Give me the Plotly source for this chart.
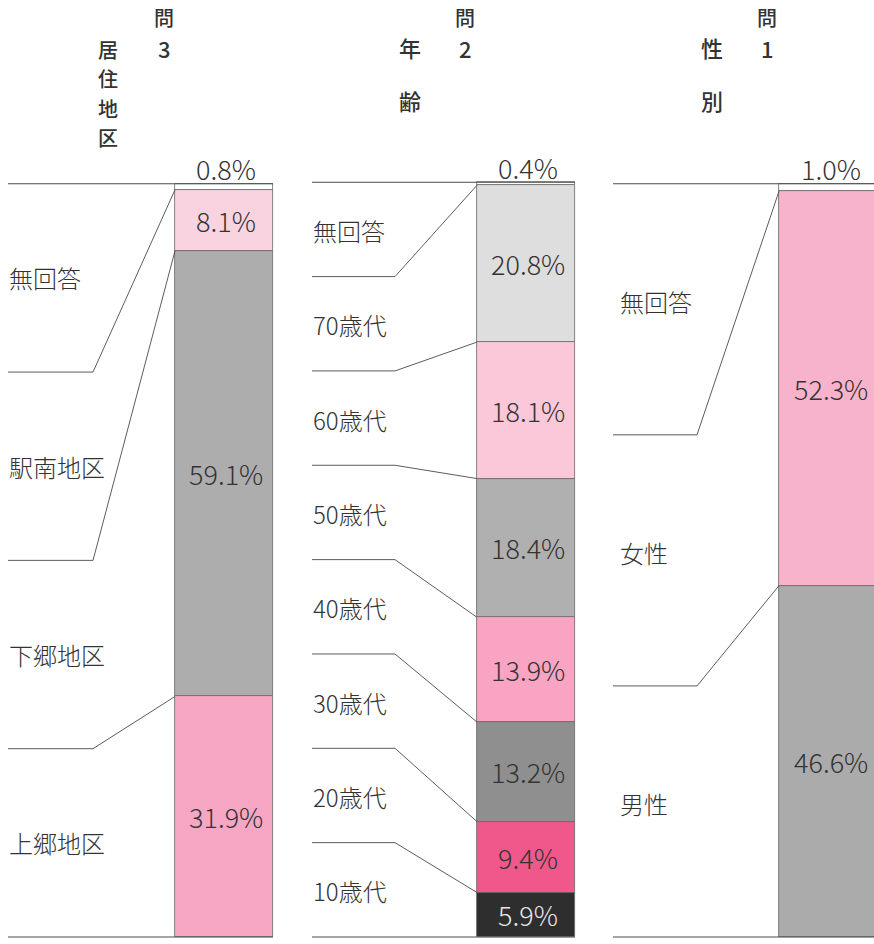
import plotly.graph_objects as go

# ---------------- data (listed top -> bottom, as in the chart) ----------------
q3_title = "居住地区"
q3_categories = ["無回答", "駅南地区", "下郷地区", "上郷地区"]
q3_values = [0.8, 8.1, 59.1, 31.9]

q2_title = "年齢"
q2_categories = ["無回答", "70歳代", "60歳代", "50歳代", "40歳代", "30歳代", "20歳代", "10歳代"]
q2_values = [0.4, 20.8, 18.1, 18.4, 13.9, 13.2, 9.4, 5.9]

q1_title = "性別"
q1_categories = ["無回答", "女性", "男性"]
q1_values = [1.0, 52.3, 46.6]

q_numbers = ["3", "2", "1"]

# ---------------- styles ----------------
q3_colors = ["#ffffff", "#f9d4e0", "#adadad", "#f7a6c3"]
q2_colors = ["#ffffff", "#dedede", "#fbc8da", "#b0b0b0", "#f8a4c2", "#8f8f8f", "#f0588c", "#2e2e2e"]
q1_colors = ["#ffffff", "#f8b3cc", "#ababab"]

W, H = 874, 944
TOP_PX, BOT_PX = 183, 937
SCALE = 100.0 / (BOT_PX - TOP_PX)
Y_RANGE = [-(H - BOT_PX) * SCALE, 100 + TOP_PX * SCALE]

FONT = "Noto Sans CJK JP, Noto Sans, sans-serif"
TXT = "#333333"
LINE = "#4a4a4a"

panels = [
    dict(title=q3_title, cats=q3_categories, vals=q3_values, cols=q3_colors, num=q_numbers[0],
         line_left=8, elbow=93, bar_left=175, bar_w=98, label_x=7, label_dy=0,
         q_x=164, title_x=108, title_vertical=True),
    dict(title=q2_title, cats=q2_categories, vals=q2_values, cols=q2_colors, num=q_numbers[1],
         line_left=312, elbow=395, bar_left=477, bar_w=98, label_x=311, label_dy=1,
         q_x=465, title_x=410, title_vertical=False),
    dict(title=q1_title, cats=q1_categories, vals=q1_values, cols=q1_colors, num=q_numbers[2],
         line_left=613, elbow=697, bar_left=779, bar_w=100, label_x=618, label_dy=-8,
         q_x=767, title_x=712, title_vertical=False),
]


def px_to_paper(py):
    return 1 - py / H


fig = go.Figure()
annotations = []

for p in panels:
    vals = p["vals"]
    n = len(vals)
    total = sum(vals)
    bases = [sum(vals[i + 1:]) for i in range(n)]
    cx = p["bar_left"] + p["bar_w"] / 2
    right = p["bar_left"] + p["bar_w"]

    # stacked segments
    fig.add_trace(go.Bar(
        x=[cx] * n, y=vals, base=bases, width=p["bar_w"],
        marker=dict(color=p["cols"], line=dict(color="#666666", width=0.8)),
        hoverinfo="skip", showlegend=False,
    ))

    # top & bottom baselines
    for yy in (total, 0):
        fig.add_trace(go.Scatter(
            x=[p["line_left"], right], y=[yy, yy], mode="lines",
            line=dict(color=LINE, width=1), hoverinfo="skip", showlegend=False))

    # leader lines from label slots to segment boundaries
    slot = total / n
    for k in range(1, n):
        slot_y = total - k * slot
        seg_y = bases[k - 1]
        fig.add_trace(go.Scatter(
            x=[p["line_left"], p["elbow"], p["bar_left"]], y=[slot_y, slot_y, seg_y],
            mode="lines", line=dict(color=LINE, width=0.9),
            hoverinfo="skip", showlegend=False))

    # category labels
    for k, c in enumerate(p["cats"]):
        annotations.append(dict(
            x=p["label_x"], y=total - (k + 0.5) * slot - p["label_dy"] * SCALE,
            xref="x", yref="y",
            text=c, showarrow=False, xanchor="left", yanchor="middle",
            font=dict(family=FONT, size=24, color=TXT, weight=300)))

    # value labels
    for k, v in enumerate(vals):
        if v < 3:
            annotations.append(dict(
                x=cx + 2, y=total + 15 * SCALE, xref="x", yref="y", text=f"{v:.1f}%",
                showarrow=False, xanchor="center", yanchor="middle",
                font=dict(family=FONT, size=27, color=TXT, weight=300)))
        else:
            col = "#e6e6e6" if p["cols"][k] == "#2e2e2e" else TXT
            annotations.append(dict(
                x=cx + 2, y=bases[k] + v / 2, xref="x", yref="y", text=f"{v:.1f}%",
                showarrow=False, xanchor="center", yanchor="middle",
                font=dict(family=FONT, size=27, color=col, weight=300)))

    # titles: 問 over the question number, and the question name
    for txt, py, sz in (("問", 17, 20), (p["num"], 48, 22)):
        annotations.append(dict(x=p["q_x"], y=px_to_paper(py), xref="x", yref="paper",
                                text=txt, showarrow=False, yanchor="middle",
                                font=dict(family=FONT, size=sz, color=TXT, weight=500)))
    if p["title_vertical"]:
        for i, ch in enumerate(p["title"]):
            annotations.append(dict(x=p["title_x"], y=px_to_paper(50 + i * 29), xref="x",
                                    yref="paper", text=ch, showarrow=False,
                                    yanchor="middle",
                                    font=dict(family=FONT, size=20, color=TXT, weight=500)))
    else:
        for i, ch in enumerate(p["title"]):
            annotations.append(dict(x=p["title_x"], y=px_to_paper(47 + i * 53), xref="x",
                                    yref="paper", text=ch, showarrow=False,
                                    yanchor="middle",
                                    font=dict(family=FONT, size=22, color=TXT, weight=500)))

fig.update_layout(
    width=W, height=H,
    margin=dict(l=0, r=0, t=0, b=0),
    paper_bgcolor="white", plot_bgcolor="white",
    barmode="overlay", bargap=0,
    xaxis=dict(range=[0, W], visible=False, fixedrange=True),
    yaxis=dict(range=Y_RANGE, visible=False, fixedrange=True),
    annotations=annotations,
    showlegend=False,
)

fig.write_html("out.html", config={"displayModeBar": False},
               post_script="document.body.style.margin='0';")
